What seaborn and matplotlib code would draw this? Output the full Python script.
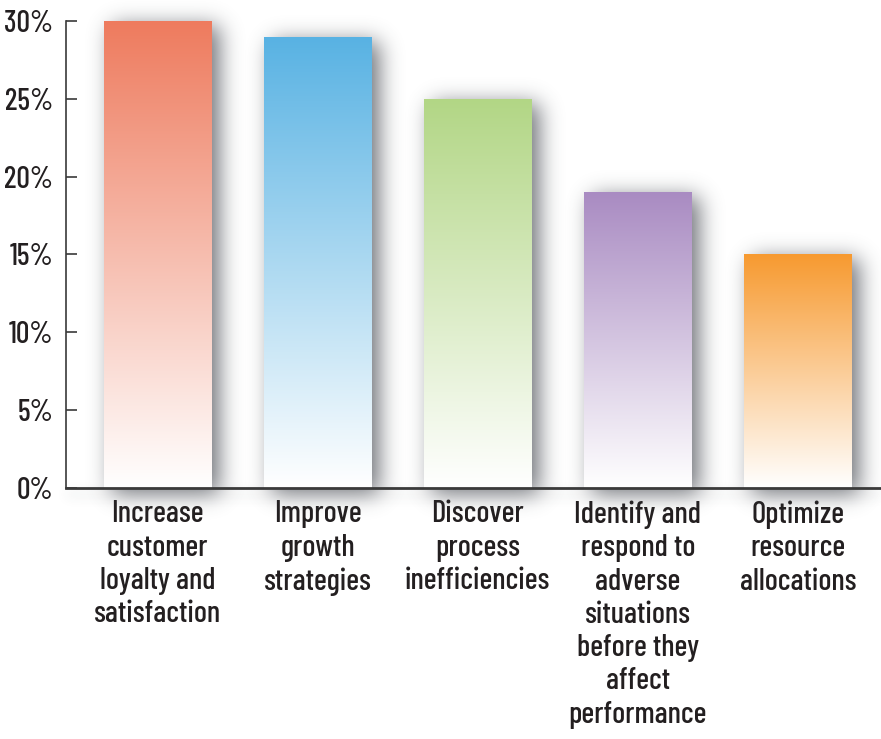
import numpy as np
import pandas as pd
import matplotlib
matplotlib.use("Agg")
import matplotlib.pyplot as plt
import matplotlib.colors as mcolors
from matplotlib.patches import Rectangle
import seaborn as sns

# chart data
categories = [
    "Increase\ncustomer\nloyalty and\nsatisfaction",
    "Improve\ngrowth\nstrategies",
    "Discover\nprocess\ninefficiencies",
    "Identify and\nrespond to\nadverse\nsituations\nbefore they\naffect\nperformance",
    "Optimize\nresource\nallocations",
]
values = [30, 29, 25, 19, 15]
bar_colors = ["#EE7B5E", "#58B2E3", "#B2D685", "#A98BC2", "#F79A30"]
y_ticks = [0, 5, 10, 15, 20, 25, 30]
y_tick_labels = [f"{t}%" for t in y_ticks]


def gauss_blur(a, sigma):
    """Separable gaussian blur of a 2d array."""
    r = int(3 * sigma)
    k = np.exp(-0.5 * (np.arange(-r, r + 1) / sigma) ** 2)
    k /= k.sum()
    a = np.apply_along_axis(lambda v: np.convolve(v, k, mode="same"), 0, a)
    a = np.apply_along_axis(lambda v: np.convolve(v, k, mode="same"), 1, a)
    return a


class SoftShadow:
    """agg filter: blurred, offset, tinted copy of the artist."""

    def __init__(self, sigma, alpha, dx, dy, color="#3c4048"):
        self.sigma, self.alpha = sigma, alpha
        self.dx, self.dy = dx, dy
        self.rgb = mcolors.to_rgb(color)

    def __call__(self, im, dpi):
        pad = int(3 * self.sigma) + max(abs(self.dx), abs(self.dy)) + 2
        src = np.pad(im, ((pad, pad), (pad, pad), (0, 0)))
        a = gauss_blur(src[..., 3], self.sigma)
        a = np.roll(a, self.dx, axis=1)
        a = np.roll(a, self.dy, axis=0)
        out = np.zeros_like(src)
        out[..., :3] = self.rgb
        out[..., 3] = np.clip(a * self.alpha, 0, 1)
        return out, -pad, -pad


sns.set_theme(style="white")
plt.rcParams["font.family"] = ["Barlow Condensed", "DejaVu Sans"]

df = pd.DataFrame({"category": categories, "value": values})

fig = plt.figure(figsize=(8.81, 7.39), dpi=100)
ax = fig.add_axes([0.0749, 0.3397, 0.9251, 0.6319])

sns.barplot(data=df, x="category", y="value", width=0.67, ax=ax,
            color="white", linewidth=0, zorder=3)

ax.set_xlim(-0.572, 4.52)
ax.set_ylim(0, 30)

for patch, col in zip(ax.patches, bar_colors):
    x0, y0 = patch.get_x(), patch.get_y()
    w, h = patch.get_width(), patch.get_height()
    # blurred drop shadow behind the bar
    sh = Rectangle((x0, y0), w, h, facecolor="black", linewidth=0,
                   zorder=1, clip_on=False)
    sh.set_agg_filter(SoftShadow(sigma=11, alpha=0.75, dx=8, dy=5))
    ax.add_patch(sh)
    # vertical gradient: full colour at top, white at the base
    rgb = np.array(mcolors.to_rgb(col))
    t = np.linspace(0, 1, 256)[:, None]
    grad = (1 - t) * rgb + t * np.ones(3)
    img = grad[:, None, :].repeat(2, axis=1)
    im = ax.imshow(img, extent=[x0, x0 + w, y0, y0 + h], aspect="auto",
                   origin="upper", zorder=4)
    im.set_clip_path(patch)
    patch.set_facecolor("none")

# faint shadow along the baseline
base = Rectangle((-0.572, -0.2), 5.1, 0.2, facecolor="black",
                 linewidth=0, zorder=1, clip_on=False)
base.set_agg_filter(SoftShadow(sigma=6, alpha=0.18, dx=0, dy=5))
ax.add_patch(base)

ax.set_xlim(-0.572, 4.52)
ax.set_ylim(0, 30)

for side in ["top", "right"]:
    ax.spines[side].set_visible(False)
ax.spines["left"].set_color("#3a3a3a")
ax.spines["left"].set_linewidth(1.2)
ax.spines["bottom"].set_color("#3a3a3a")
ax.spines["bottom"].set_linewidth(2)
ax.spines["left"].set_zorder(6)
ax.spines["bottom"].set_zorder(6)

ax.set_yticks(y_ticks)
ax.set_yticklabels(y_tick_labels, fontsize=21.5, color="#231f20",
                   fontweight=500)
ax.tick_params(axis="y", direction="in", length=8, width=1.2,
               color="#3a3a3a", pad=9, left=True)
ax.tick_params(axis="x", length=0, pad=9)
ax.set_xticks(range(len(categories)))
ax.set_xticklabels(categories, fontsize=22, color="#231f20",
                   fontweight=500, linespacing=1.24,
                   va="top", ha="center")
for lbl in ax.get_xticklabels():
    lbl.set_multialignment("center")

ax.set_xlabel("")
ax.set_ylabel("")
ax.grid(False)

fig.savefig("out.png", dpi=100, facecolor="white")
